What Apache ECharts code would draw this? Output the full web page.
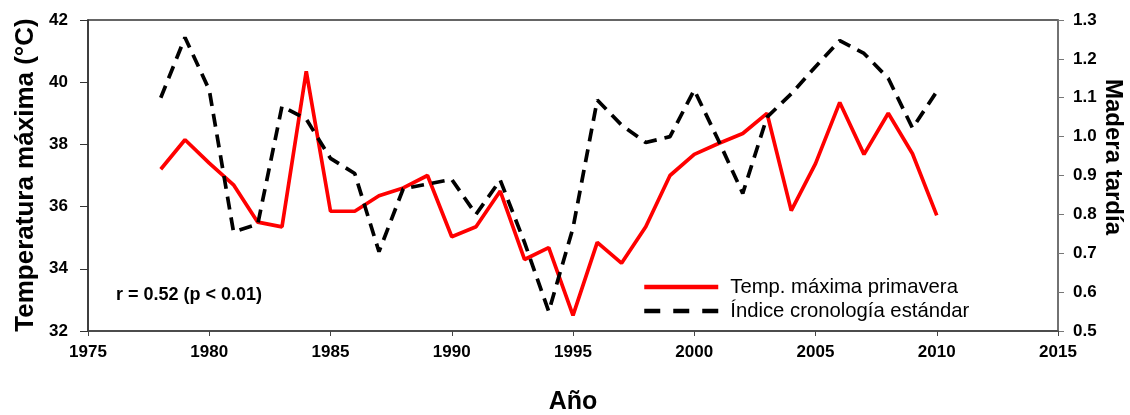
<!DOCTYPE html>
<html>
<head>
<meta charset="utf-8">
<script src="https://cdn.jsdelivr.net/npm/echarts@6/dist/echarts.min.js"></script>
<style>html,body{margin:0;padding:0;background:#fff;}#c{width:1130px;height:415px;}</style>
</head>
<body>
<div id="c"></div>
<script>
var years = [1978,1979,1980,1981,1982,1983,1984,1985,1986,1987,1988,1989,1990,1991,1992,1993,1994,1995,1996,1997,1998,1999,2000,2001,2002,2003,2004,2005,2006,2007,2008,2009,2010];
var tempMax = [37.2,38.15,37.4,36.7,35.5,35.35,40.35,35.85,35.85,36.35,36.6,37.0,35.03,35.35,36.5,34.3,34.68,32.5,34.85,34.18,35.35,37.0,37.68,38.03,38.35,39.0,35.87,37.38,39.35,37.68,39.0,37.7,35.72];
var cronologia = [1.10,1.255,1.12,0.755,0.775,1.078,1.045,0.944,0.905,0.704,0.866,0.878,0.89,0.80,0.888,0.728,0.55,0.765,1.094,1.03,0.985,1.0,1.12,0.99,0.854,1.05,1.11,1.18,1.247,1.214,1.15,1.022,1.116];
var xTicks = [1975,2015,5];
var leftTicks = [32,42,2];
var rightTicks = [0.5,1.3,0.1];
var seriesNames = ['Temp. máxima primavera','Índice cronología estándar'];

var FONT = 'Liberation Sans, Arial, sans-serif';
function pairs(v){ return years.map(function(y,i){ return [y, v[i]]; }); }

var chart = echarts.init(document.getElementById('c'), null, {renderer:'canvas'});
chart.setOption({
  animation:false,
  backgroundColor:'#ffffff',
  grid:{left:88, right:72, top:20, bottom:84, show:true, borderColor:'#333', borderWidth:1.5},
  xAxis:{
    type:'value', min:xTicks[0], max:xTicks[1], interval:xTicks[2],
    axisLine:{show:true, lineStyle:{color:'#444', width:1.5}},
    axisTick:{show:true, inside:false, length:5, lineStyle:{color:'#444'}},
    splitLine:{show:false},
    axisLabel:{color:'#000', fontWeight:'bold', fontSize:17, fontFamily:FONT, margin:13,
      formatter:function(v){ return String(v); }}
  },
  yAxis:[{
    type:'value', min:leftTicks[0], max:leftTicks[1], interval:leftTicks[2],
    axisLine:{show:true, lineStyle:{color:'#333', width:1.5}},
    axisTick:{show:true, inside:false, length:8, lineStyle:{color:'#333'}},
    splitLine:{show:false},
    axisLabel:{color:'#000', fontWeight:'bold', fontSize:17, fontFamily:FONT, margin:20}
  },{
    type:'value', min:rightTicks[0], max:rightTicks[1], interval:rightTicks[2], position:'right',
    axisLine:{show:true, lineStyle:{color:'#777', width:1.5}},
    axisTick:{show:true, inside:false, length:6, lineStyle:{color:'#777'}},
    splitLine:{show:false},
    axisLabel:{color:'#000', fontWeight:'bold', fontSize:17, fontFamily:FONT, margin:15,
      formatter:function(v){ return v.toFixed(1); }}
  }],
  legend:{
    orient:'vertical', left:637, top:272, itemGap:4, itemWidth:74, itemHeight:20,
    textStyle:{color:'#000', fontSize:20.3, fontFamily:FONT, padding:[0,0,0,7]},
    itemStyle:{opacity:0},
    data:[
      {name:seriesNames[0], itemStyle:{opacity:0}, lineStyle:{width:4.5}},
      {name:seriesNames[1], itemStyle:{opacity:0}, lineStyle:{width:4.5, type:[16,13]}}
    ]
  },
  series:[{
    name:seriesNames[0], type:'line', yAxisIndex:0, data:pairs(tempMax),
    showSymbol:false, symbol:'none',
    lineStyle:{color:'#ff0000', width:3.7}, itemStyle:{color:'#ff0000'}
  },{
    name:seriesNames[1], type:'line', yAxisIndex:1, data:pairs(cronologia),
    showSymbol:false, symbol:'none',
    lineStyle:{color:'#000', width:3.7, type:[13,8]}, itemStyle:{color:'#000'}
  }],
  graphic:[
    {type:'text', left:116, top:286, style:{text:'r = 0.52 (p < 0.01)', fill:'#000', font:'bold 18px '+FONT}},
    {type:'text', x:26, y:175, rotation:Math.PI/2, style:{text:'Temperatura máxima (°C)', fill:'#000', font:'bold 26px '+FONT, textAlign:'center', textVerticalAlign:'middle'}},
    {type:'text', x:1113, y:157, rotation:-Math.PI/2, style:{text:'Madera tardía', fill:'#000', font:'bold 24px '+FONT, textAlign:'center', textVerticalAlign:'middle'}},
    {type:'text', x:573, y:402, style:{text:'Año', fill:'#000', font:'bold 25px '+FONT, textAlign:'center', textVerticalAlign:'middle'}}
  ]
});
</script>
</body>
</html>
